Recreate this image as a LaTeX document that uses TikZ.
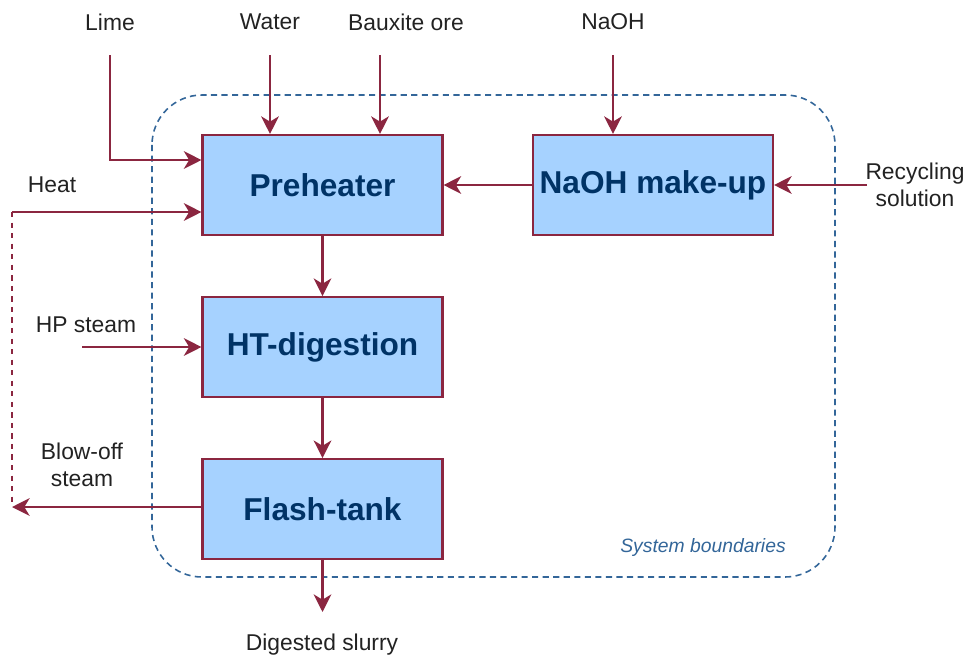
\documentclass[tikz,border=0pt]{standalone}
\usepackage{fontspec}
\setmainfont{Liberation Sans}
\usetikzlibrary{positioning, arrows.meta}
\definecolor{flow}{RGB}{139,38,64}
\definecolor{boxfill}{RGB}{166,210,255}
\definecolor{boxtext}{RGB}{0,51,102}
\definecolor{boundary}{RGB}{51,102,153}
\definecolor{tagtext}{RGB}{34,34,34}
\tikzset{
  unit/.style={
    draw=flow, line width=1.2pt, fill=boxfill, text=boxtext,
    font=\fontsize{18}{21}\selectfont\bfseries,
    minimum width=4.8cm, minimum height=2cm, inner sep=0pt
  },
  stream/.style={-{Stealth[length=10pt, width=10pt, inset=3pt]}, line width=1.6pt, flow},
  tag/.style={font=\fontsize{13}{15.5}\selectfont, text=tagtext, align=center, inner sep=0pt}
}

\begin{document}
\begin{tikzpicture}[x=0.02cm, y=-0.02cm, node distance=1.2cm]
  \useasboundingbox (0,0) rectangle (974,660);
  % system boundaries
  \draw[boundary, line width=0.9pt, dash pattern=on 3.5pt off 2.5pt, rounded corners=1cm] (152,95) rectangle (835,577);
  \node[tag, font=\fontsize{11}{13}\selectfont\itshape, text=boundary] (sysb) at (703,547) {System boundaries};

  % process units
  \node[unit] (pre) at (322.5,185) {Preheater};
  \node[unit, below=of pre] (htd) {HT-digestion};
  \node[unit, below=of htd] (flash) {Flash-tank};
  \node[unit] (naoh) at (653,185) {NaOH make-up};

  % stream labels
  \node[tag] (lime) at (110,22) {Lime};
  \node[tag] (water) at (270,22) {Water};
  \node[tag] (bauxite) at (406,22) {Bauxite ore};
  \node[tag] (naohin) at (613,22) {NaOH};
  \node[tag] (recyc) at (915,185) {Recycling\\solution};
  \node[tag] (heat) at (52,185) {Heat};
  \node[tag] (hps) at (86,325) {HP steam};
  \node[tag] (blow) at (82,465) {Blow-off\\steam};
  \node[tag] (slurry) at (322,645) {Digested slurry};

  \coordinate (limetop) at (110,55);
  \coordinate (watertop) at (270,55);
  \coordinate (bauxtop) at (380,55);
  \coordinate (naohtop) at (613,55);
  \coordinate (recycend) at (867,185);
  \coordinate (heatend) at (12,212);
  \coordinate (hpsend) at (82,347);
  \coordinate (blowend) at (12,507);
  \coordinate (slurryend) at (322.5,612);

  \draw[stream] (limetop) |- ([yshift=0.5cm]pre.west);
  \draw[stream] (watertop) -- (watertop |- pre.north);
  \draw[stream] (bauxtop) -- (bauxtop |- pre.north);
  \draw[stream] (naohtop) -- (naohtop |- naoh.north);
  \draw[stream] (recycend) -- (naoh.east);
  \draw[stream] (naoh.west) -- (pre.east);
  \draw[stream] (heatend) -- (heatend -| pre.west);
  \draw[flow, line width=1pt, dash pattern=on 3pt off 3pt] (heatend) -- (blowend);
  \draw[stream] (hpsend) -- (hpsend -| htd.west);
  \draw[stream] (flash.west |- blowend) -- (blowend);
  \draw[stream] (pre) -- (htd);
  \draw[stream] (htd) -- (flash);
  \draw[stream] (flash) -- (slurryend);
\end{tikzpicture}
\end{document}
